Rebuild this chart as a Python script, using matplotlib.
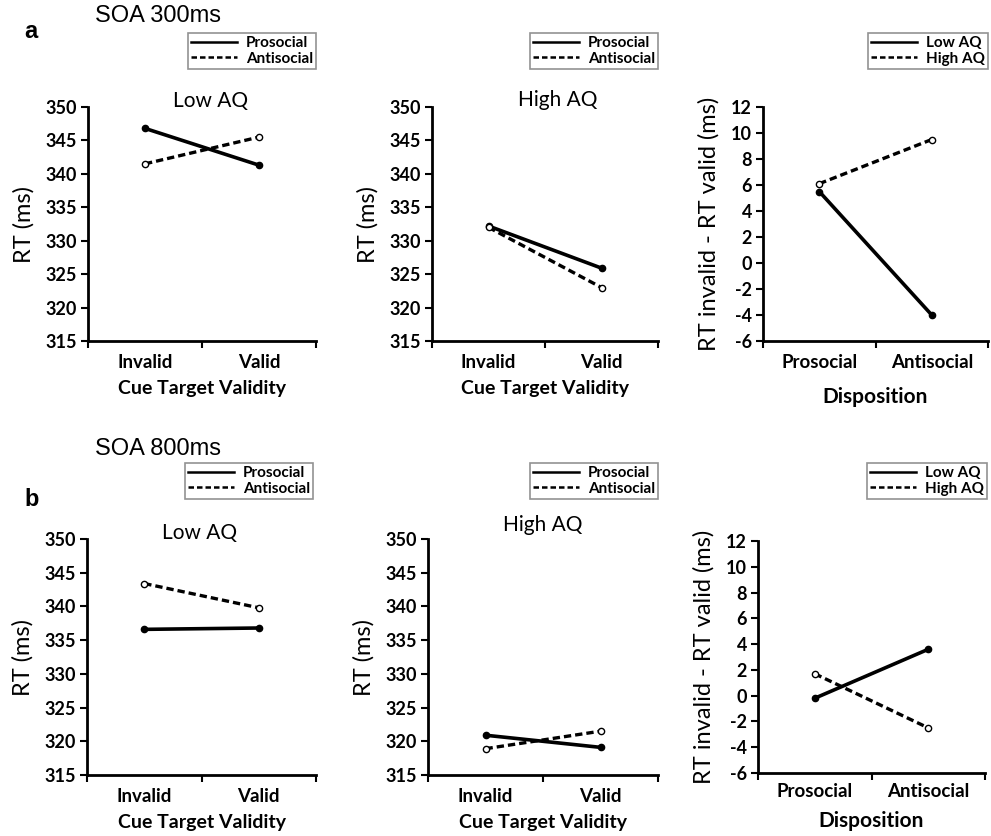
import matplotlib
matplotlib.use("Agg")
import matplotlib.pyplot as plt
from matplotlib.ticker import FixedLocator

plt.rcParams['font.family'] = ['Lato', 'DejaVu Sans']

validity = ["Invalid", "Valid"]
disposition = ["Prosocial", "Antisocial"]

# SOA 300ms
a_low_pro = [346.8, 341.3]
a_low_anti = [341.5, 345.5]
a_high_pro = [332.2, 325.9]
a_high_anti = [332.0, 323.0]
a_diff_low = [5.5, -4.0]
a_diff_high = [6.1, 9.5]

# SOA 800ms
b_low_pro = [336.6, 336.8]
b_low_anti = [343.4, 339.8]
b_high_pro = [320.9, 319.1]
b_high_anti = [318.9, 321.5]
b_diff_low = [-0.2, 3.6]
b_diff_high = [1.7, -2.5]

W, H = 991, 836
fig = plt.figure(figsize=(W / 100, H / 100), dpi=100)


def box(l, t, r, b):
    return [l / W, 1 - b / H, (r - l) / W, (b - t) / H]


def panel(rect, cats, s1, s2, names, ylim, yticks, ylabel, xlabel, title, title_xy,
          leg_rect, xpad=9, lpad=7, lsize=14):
    ax = fig.add_axes(box(*rect))
    x = [0, 1]
    ax.plot(x, s1, color="black", lw=2.6, marker="o", ms=4.5,
            mfc="black", mec="black", label=names[0], zorder=3)
    ax.plot(x, s2, color="black", lw=2.4, ls=(0, (2.2, 1.2)), marker="o", ms=4.5,
            mfc="white", mec="black", mew=1, label=names[1], zorder=3)
    ax.set_xlim(-0.5, 1.5)
    ax.set_ylim(*ylim)
    ax.set_yticks(yticks)
    ax.set_yticklabels([str(v) for v in yticks], fontsize=13, fontweight="bold")
    ax.set_xticks(x)
    ax.set_xticklabels(cats, fontsize=13.5, fontweight="bold")
    ax.tick_params(axis="x", length=0, pad=xpad)
    ax.xaxis.set_minor_locator(FixedLocator([-0.5, 0.5, 1.5]))
    ax.tick_params(axis="x", which="minor", length=5, width=1.5, direction="out")
    ax.tick_params(axis="y", length=5, width=1.5, direction="out", pad=3)
    for s in ["top", "right"]:
        ax.spines[s].set_visible(False)
    for s in ["left", "bottom"]:
        ax.spines[s].set_linewidth(2)
    ax.set_ylabel(ylabel, fontsize=17, labelpad=8)
    ax.set_xlabel(xlabel, fontsize=lsize, fontweight="bold", labelpad=lpad)
    if title:
        fig.text(title_xy[0] / W, 1 - title_xy[1] / H, title, fontsize=15,
                 ha="center", va="center")
    l, t, r, b = leg_rect
    leg = ax.legend(loc="upper right", bbox_to_anchor=(r / W, 1 - t / H),
                    bbox_transform=fig.transFigure, frameon=True,
                    fancybox=False, handlelength=3.0, handletextpad=0.6,
                    borderpad=0.2, labelspacing=0.1, borderaxespad=0,
                    prop={"weight": "bold", "size": 11})
    leg.get_frame().set_edgecolor("#777777")
    leg.get_frame().set_linewidth(1.2)
    for h in leg.legend_handles:
        h.set_marker("")
        h.set_linewidth(1.8)
    return ax


rt_ticks = [315, 320, 325, 330, 335, 340, 345, 350]
d_ticks = [-6, -4, -2, 0, 2, 4, 6, 8, 10, 12]
grp = ["Prosocial", "Antisocial"]
aq = ["Low AQ", "High AQ"]

panel((88, 107, 316, 341), validity, a_low_pro, a_low_anti, grp, (315, 350), rt_ticks,
      "RT (ms)", "Cue Target Validity", "Low AQ", (211, 101), (190, 33, 316, 79))
panel((432, 107, 658, 341), validity, a_high_pro, a_high_anti, grp, (315, 350), rt_ticks,
      "RT (ms)", "Cue Target Validity", "High AQ", (558, 100), (537, 33, 658, 72))
panel((763, 107, 988, 341), disposition, a_diff_low, a_diff_high, aq, (-6, 12), d_ticks,
      "RT invalid - RT valid (ms)", "Disposition", None, None, (867, 33, 988, 73),
      lpad=12, lsize=15)

panel((87, 539, 316, 775), validity, b_low_pro, b_low_anti, grp, (315, 350), rt_ticks,
      "RT (ms)", "Cue Target Validity", "Low AQ", (200, 533), (188, 463, 313, 505))
panel((428, 539, 658, 775), validity, b_high_pro, b_high_anti, grp, (315, 350), rt_ticks,
      "RT (ms)", "Cue Target Validity", "High AQ", (543, 525), (533, 463, 658, 505))
panel((758, 541, 985, 773), disposition, b_diff_low, b_diff_high, aq, (-6, 12), d_ticks,
      "RT invalid - RT valid (ms)", "Disposition", None, None, (863, 463, 987, 506),
      xpad=7, lpad=8, lsize=15)

fig.text(95 / W, 1 - 16 / H, "SOA 300ms", fontsize=17, family="Liberation Sans",
         ha="left", va="center")
fig.text(24 / W, 1 - 32 / H, "a", fontsize=17, fontweight="bold",
         family="Liberation Sans", ha="left", va="center")
fig.text(95 / W, 1 - 449 / H, "SOA 800ms", fontsize=17, family="Liberation Sans",
         ha="left", va="center")
fig.text(24 / W, 1 - 500 / H, "b", fontsize=17, fontweight="bold",
         family="Liberation Sans", ha="left", va="center")

fig.savefig("out.png", dpi=100, facecolor="white")
